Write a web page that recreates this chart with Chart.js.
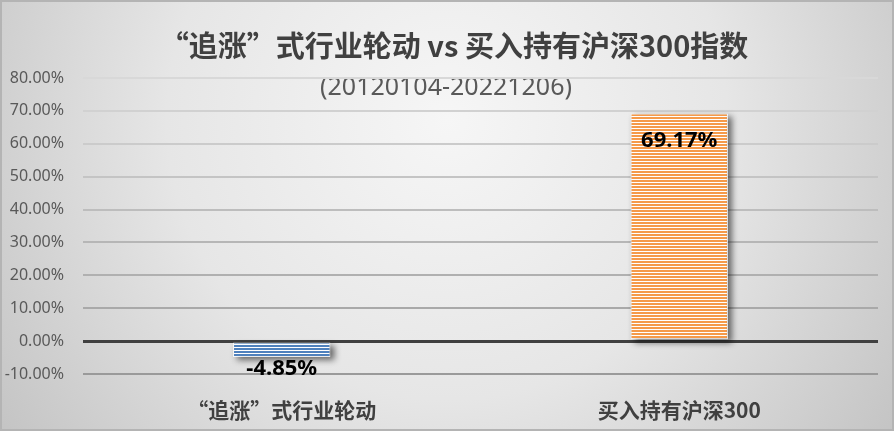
<!DOCTYPE html>
<html>
<head>
<meta charset="utf-8">
<script src="https://cdn.jsdelivr.net/npm/chart.js@4/dist/chart.umd.min.js"></script>
<style>
html,body{margin:0;padding:0;background:#fff;}
#wrap{width:894px;height:431px;position:relative;}
</style>
</head>
<body>
<div id="wrap"><canvas id="c" width="894" height="431"></canvas></div>
<script>
const categories = ['“追涨”式行业轮动', '买入持有沪深300'];
const values = [-4.85, 69.17];
const valueLabels = ['-4.85%', '69.17%'];
const titleText = '“追涨”式行业轮动 vs 买入持有沪深300指数';
const subtitleText = '(20120104-20221206)';
const yMin = -10, yMax = 80, yStep = 10;

function stripe(color) {
  const c = document.createElement('canvas');
  c.width = 4; c.height = 3;
  const x = c.getContext('2d');
  x.fillStyle = '#ffffff'; x.fillRect(0, 0, 4, 3);
  x.fillStyle = color; x.fillRect(0, 0, 4, 2);
  return x.createPattern(c, 'repeat');
}
const cctx = document.getElementById('c').getContext('2d');
const barFills = [stripe('#4f81bd'), stripe('#f59a4a')];

const bgPlugin = {
  id: 'bg',
  beforeDraw(chart) {
    const ctx = chart.ctx, w = chart.width, h = chart.height;
    ctx.save();
    const g = ctx.createRadialGradient(447, 120, 0, 447, 120, 560);
    g.addColorStop(0, '#f6f6f6');
    g.addColorStop(0.5, '#e6e6e6');
    g.addColorStop(1, '#c2c2c2');
    ctx.fillStyle = g;
    ctx.fillRect(0, 0, w, h);
    ctx.strokeStyle = '#b4b4b4';
    ctx.lineWidth = 2;
    ctx.strokeRect(1, 1, w - 2, h - 2);
    ctx.fillStyle = '#404040';
    ctx.textAlign = 'center';
    ctx.textBaseline = 'middle';
    ctx.font = 'bold 29px "Noto Sans CJK SC", "Noto Sans", sans-serif';
    ctx.fillText(titleText, 454, 46);
    ctx.fillStyle = '#595959';
    ctx.font = '25px "Noto Sans", "Noto Sans CJK SC", sans-serif';
    ctx.fillText(subtitleText, 446, 88);
    ctx.restore();
  }
};

const shadowPlugin = {
  id: 'shadow',
  beforeDatasetsDraw(chart) {
    const ctx = chart.ctx;
    const meta = chart.getDatasetMeta(0);
    ctx.save();
    ctx.fillStyle = 'rgba(0,0,0,0.55)';
    ctx.filter = 'blur(3px)';
    meta.data.forEach(bar => {
      const p = bar.getProps(['x', 'y', 'base', 'width'], true);
      const top = Math.min(p.y, p.base), bot = Math.max(p.y, p.base);
      ctx.fillRect(p.x - p.width / 2 + 4, top + 3, p.width, bot - top);
    });
    ctx.restore();
  },
  afterDatasetsDraw(chart) {
    const ctx = chart.ctx;
    const meta = chart.getDatasetMeta(0);
    ctx.save();
    ctx.fillStyle = '#000';
    ctx.textAlign = 'center';
    ctx.textBaseline = 'middle';
    ctx.font = 'bold 22px "Noto Sans", sans-serif';
    meta.data.forEach((bar, i) => {
      const v = values[i];
      const y = v >= 0 ? bar.y + 27 : bar.y + 12;
      ctx.fillText(valueLabels[i], bar.x, y);
    });
    ctx.restore();
  }
};

function gridColor(v) {
  if (v === 0) return '#404040';
  if (v < 0) return '#9a9a9a';
  const t = v / 80;
  const c = Math.round(0xa2 + (0xd8 - 0xa2) * t);
  return 'rgb(' + c + ',' + c + ',' + c + ')';
}

new Chart(cctx, {
  type: 'bar',
  data: {
    labels: categories,
    datasets: [{
      data: values,
      backgroundColor: barFills,
      borderColor: 'rgba(255,255,255,0.85)',
      borderWidth: 1,
      borderSkipped: false,
      categoryPercentage: 1,
      barPercentage: 0.245
    }]
  },
  options: {
    responsive: false,
    animation: false,
    devicePixelRatio: 1,
    layout: { padding: { top: 78, right: 16, left: 0, bottom: 0 } },
    plugins: { legend: { display: false }, tooltip: { enabled: false } },
    scales: {
      x: {
        grid: { display: false, drawTicks: false },
        border: { display: false },
        ticks: {
          color: '#404040',
          padding: 23,
          font: { family: '"Noto Sans CJK SC", sans-serif', size: 21, weight: 'bold' }
        },
        afterFit(s) { s.height = 57; }
      },
      y: {
        min: yMin, max: yMax,
        ticks: {
          stepSize: yStep,
          color: '#595959',
          padding: 19,
          font: { family: '"Noto Sans", sans-serif', size: 16 },
          callback: v => v.toFixed(2) + '%'
        },
        grid: {
          drawTicks: false,
          color: c => gridColor(c.tick.value),
          lineWidth: c => c.tick.value === 0 ? 3 : 2
        },
        border: { display: false },
        afterFit(s) { s.width = 83; }
      }
    }
  },
  plugins: [bgPlugin, shadowPlugin]
});
</script>
</body>
</html>
